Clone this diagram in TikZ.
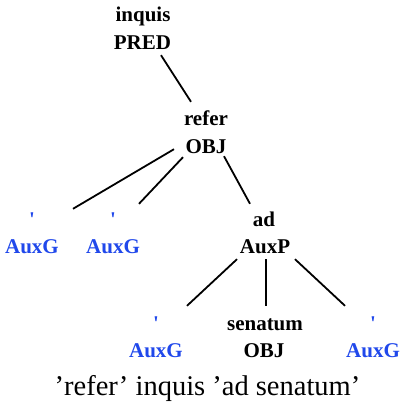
\documentclass[tikz,border=0pt]{standalone}
\usepackage{fontspec}
\setmainfont{Liberation Serif}
\usetikzlibrary{calc}
\definecolor{auxblue}{RGB}{32,72,235}
\begin{document}
\begin{tikzpicture}[x=1pt,y=-1pt,
  lbl/.style={inner sep=0pt,anchor=base,text height=15pt,text depth=0pt,font=\fontsize{21}{26}\selectfont\bfseries},
  aux/.style={lbl,text=auxblue},
  edge/.style={line width=1.8pt}]
\useasboundingbox (0,0) rectangle (399,404);
% nodes
\node[lbl] (winquis) at (143,22) {inquis};
\node[lbl] (lpred) at (142.5,50) {PRED};
\node[lbl] (wrefer) at (206,125) {refer};
\node[lbl] (lobja) at (206,153) {OBJ};
\node[aux] (wqa) at (32,226) {\textquotesingle};
\node[aux] (lauxga) at (32,253) {AuxG};
\node[aux] (wqb) at (113,226) {\textquotesingle};
\node[aux] (lauxgb) at (113,253) {AuxG};
\node[lbl] (wad) at (264,226) {ad};
\node[lbl] (lauxp) at (265,253) {AuxP};
\node[aux] (wqc) at (156,330) {\textquotesingle};
\node[aux] (lauxgc) at (156,357) {AuxG};
\node[lbl] (wsen) at (265,330) {senatum};
\node[lbl] (lobjb) at (264,357) {OBJ};
\node[aux] (wqd) at (373,330) {\textquotesingle};
\node[aux] (lauxgd) at (373,357) {AuxG};
\node[inner sep=0pt,anchor=base,font=\fontsize{28.5}{34}\selectfont] (caption) at (207.5,395) {'refer' inquis 'ad senatum'};
% connectors
\draw[edge] ($(lpred.south)+(18.5,5)$) -- ($(wrefer.north)+(-15,-8)$);
\draw[edge] ($(lobja.south)+(-32,-4)$) -- ($(wqa.north)+(41,-2)$);
\draw[edge] ($(lobja.south)+(-23,4)$) -- ($(wqb.north)+(26,-7)$);
\draw[edge] ($(lobja.south)+(18,3)$) -- ($(wad.north)+(-14,-7)$);
\draw[edge] ($(lauxp.south)+(-28,6)$) -- ($(wqc.north)+(31,-9)$);
\draw[edge] ($(lauxp.south)+(1,6)$) -- ($(wsen.north)+(1,-9)$);
\draw[edge] ($(lauxp.south)+(30,6)$) -- ($(wqd.north)+(-28,-9)$);
\end{tikzpicture}
\end{document}
